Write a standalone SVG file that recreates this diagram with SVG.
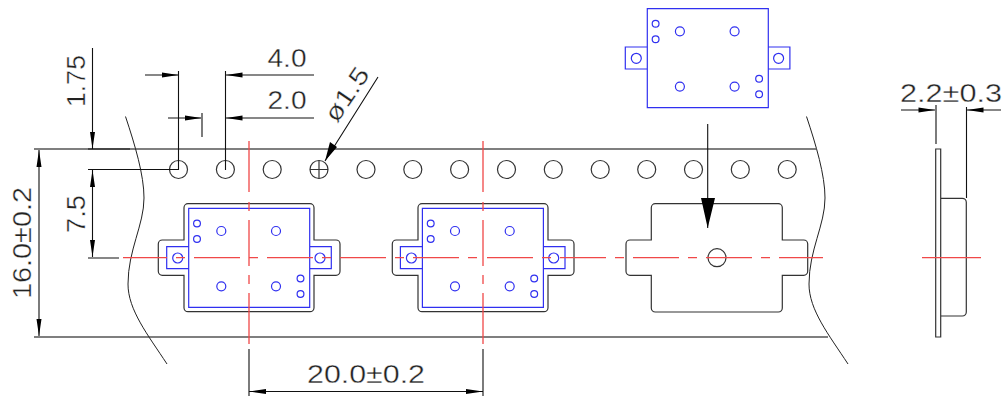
<svg xmlns="http://www.w3.org/2000/svg" xmlns:xlink="http://www.w3.org/1999/xlink" width="1008" height="398" viewBox="0 0 1008 398">
<style>
.k{fill:none;stroke:#222;stroke-width:1}
.g{fill:none;stroke:#555;stroke-width:1.4}
.d{fill:none;stroke:#111;stroke-width:1.1}
.o{fill:none;stroke:#333;stroke-width:1.2}
.b{fill:none;stroke:#3030f0;stroke-width:1.2}
.r{fill:none;stroke:#f04848;stroke-width:1.3}
.a{fill:#000;stroke:none}
text{font-family:"Liberation Sans",Arial,sans-serif;font-size:25px;fill:#222;stroke:#fff;stroke-width:.35;paint-order:fill}
</style>
<defs>
<g id="blue">
<path class="b" d="M188.7 208.3H309.7V307.3H188.7ZM188.7 246.7H166.7V268.7H188.7M309.7 246.7H331.3V268.7H309.7"/>
<circle class="b" cx="177.7" cy="258" r="5"/><circle class="b" cx="320" cy="258" r="5"/>
<circle class="b" cx="221.3" cy="231" r="4.5"/><circle class="b" cx="276" cy="231" r="4.5"/>
<circle class="b" cx="221.3" cy="286.3" r="4.5"/><circle class="b" cx="276" cy="286.3" r="4.5"/>
<circle class="b" cx="197" cy="223.5" r="3.4"/><circle class="b" cx="197" cy="239" r="3.4"/>
<circle class="b" cx="300.5" cy="278.5" r="3.4"/><circle class="b" cx="300.5" cy="294" r="3.4"/>
</g>
<path id="pocket" class="o" d="M188 203.7H310a4 4 0 0 1 4 4V240H336a4 4 0 0 1 4 4V271.3a4 4 0 0 1 -4 4H314V307.7a4 4 0 0 1 -4 4H188a4 4 0 0 1 -4 -4V275.3H162.3a4 4 0 0 1 -4 -4V244a4 4 0 0 1 4 -4H184V207.7a4 4 0 0 1 4 -4Z"/>
<path id="vred" class="r" d="M0 141V192M0 202V211M0 220V266M0 275V284M0 293V344"/>
<path id="wave" class="k" d="M125.5 116.5C135 145 144 175 144 198C144 225 128 250 128 284C128 310 148 335 167 364"/>
</defs>
<g id="tape">
<path class="g" d="M34 149H816M34 337H828"/>
<use href="#wave"/><use href="#wave" x="681"/>
</g>
<g id="holes" class="o">
<circle class="o" cx="178.5" cy="169.5" r="9"/><circle class="o" cx="225.4" cy="169.5" r="9"/><circle class="o" cx="272.2" cy="169.5" r="9"/><circle class="o" cx="319" cy="169.5" r="9"/><circle class="o" cx="366" cy="169.5" r="9"/><circle class="o" cx="412.8" cy="169.5" r="9"/><circle class="o" cx="459.6" cy="169.5" r="9"/><circle class="o" cx="506.5" cy="169.5" r="9"/><circle class="o" cx="553.3" cy="169.5" r="9"/><circle class="o" cx="600.2" cy="169.5" r="9"/><circle class="o" cx="646.7" cy="169.5" r="9"/><circle class="o" cx="693.5" cy="169.5" r="9"/><circle class="o" cx="740.3" cy="169.5" r="9"/><circle class="o" cx="787.2" cy="169.5" r="9"/>
<path class="o" d="M310 169.5H328M319 160.5V178.5"/>
</g>
<g id="pocket-1"><use href="#pocket"/></g>
<g id="pocket-2"><use href="#pocket" x="234"/></g>
<g id="pocket-3"><path class="o" d="M655.3 203.7H778.3a4 4 0 0 1 4 4V240H803.7a4 4 0 0 1 4 4V271.3a4 4 0 0 1 -4 4H782.3V308a4 4 0 0 1 -4 4H655.3a4 4 0 0 1 -4 -4V275.3H630a4 4 0 0 1 -4 -4V244a4 4 0 0 1 4 -4H651.3V207.7a4 4 0 0 1 4 -4Z"/>
<circle class="o" cx="717" cy="257.7" r="9"/></g>
<g id="part-1"><use href="#blue"/></g>
<g id="part-2"><use href="#blue" x="233.7"/></g>
<g id="part-top"><use href="#blue" x="458.6" y="-199.7"/></g>
<g id="side-view">
<path class="o" d="M935.7 149H940.7V337H935.7ZM940.7 198.3H962.3a4 4 0 0 1 4 4V312a4 4 0 0 1 -4 4H940.7"/>
</g>
<g id="centerlines">
<path class="r" d="M123 257.7H167M176 257.7H185M194 257.7H240M249 257.7H258M267 257.7H313M322 257.7H331M340 257.7H386M395 257.7H404M413 257.7H459M468 257.7H477M487 257.7H533M542 257.7H551M560 257.7H606M615 257.7H624M633 257.7H679M688 257.7H697M706 257.7H752M761 257.7H770M779 257.7H823M922 257.7H981"/>
<use href="#vred" x="249"/><use href="#vred" x="483"/>
</g>
<g id="connectors">
<path class="d" d="M92.5 48V149M88 149H130M88 169.5H178M92.5 170V257M88 258H119M39 150V336"/>
<path class="d" d="M145 75H178M178.5 71V170M225.5 71V170M226 75H314M168 118H201M202 113V137M226 118H314"/>
<path class="d" d="M378 77L325 161M707.7 124V228"/>
<path class="d" d="M901 110H935M936 105V144M966.5 107V198M967 110H1001"/>
<path class="d" d="M249 349V396M483 349V396M249 391.5H483"/>
<path class="a" d="M92.5 149L90 132H95ZM92.5 170L90 187H95ZM92.5 257L90 240H95ZM39 150L36.500 167H41.500ZM39 336L36.500 319H41.500Z"/>
<path class="a" d="M178.500 75L162 72.500V77.500ZM226 75L242.500 72.500V77.500ZM201.500 118L185 115.500V120.500ZM226 118L242.500 115.500V120.500Z"/>
<path class="a" d="M325 161L330 142L337 147ZM707.700 228L701 198H715ZM935 110L918.500 107.500V112.500ZM967 110L983.500 107.500V112.500ZM249 391.500L266 389V394ZM483 391.500L466 389V394Z"/>
</g>
<g id="labels">
<text x="267.500" y="67" textLength="39" lengthAdjust="spacingAndGlyphs">4.0</text>
<text x="267.500" y="109" textLength="39" lengthAdjust="spacingAndGlyphs">2.0</text>
<text transform="translate(85 107) rotate(-90)" textLength="52" lengthAdjust="spacingAndGlyphs">1.75</text>
<text transform="translate(85 233) rotate(-90)" textLength="38" lengthAdjust="spacingAndGlyphs">7.5</text>
<text transform="translate(31 299) rotate(-90)" textLength="112" lengthAdjust="spacingAndGlyphs">16.0±0.2</text>
<text transform="translate(337 124) rotate(-56)" textLength="60" lengthAdjust="spacingAndGlyphs">ø1.5</text>
<text x="307" y="383" textLength="118" lengthAdjust="spacingAndGlyphs">20.0±0.2</text>
<text x="900" y="102" textLength="102" lengthAdjust="spacingAndGlyphs">2.2±0.3</text>
</g>
</svg>
